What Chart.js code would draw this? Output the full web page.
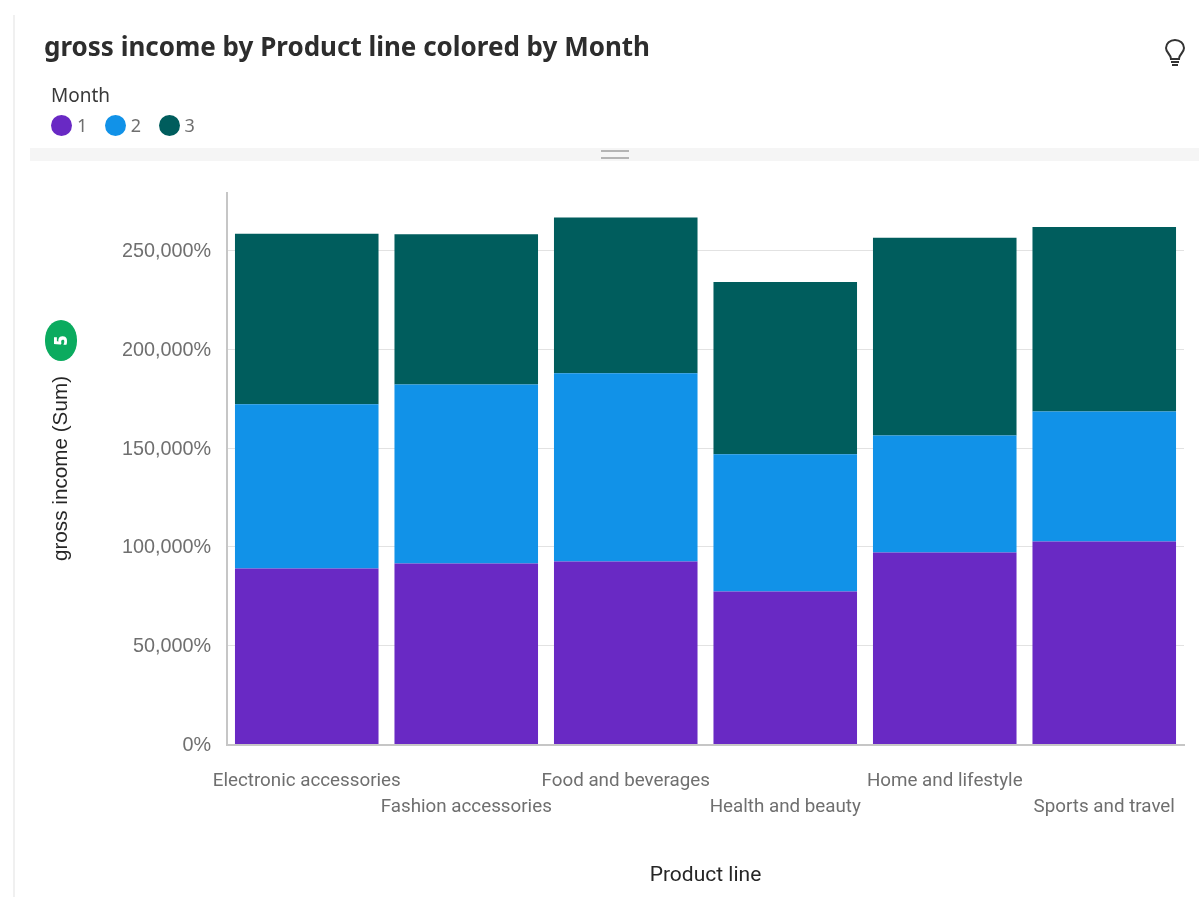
<!DOCTYPE html>
<html lang="en">
<head>
  <meta charset="UTF-8">
  <title>gross income by Product line colored by Month</title>
  <script src="https://cdn.jsdelivr.net/npm/chart.js"></script>
  <style>
    html, body { margin: 0; padding: 0; background: #fff; }
    body { width: 1199px; height: 897px; position: relative; overflow: hidden; font-family: "Noto Sans", sans-serif; }
    #panel-edge { position: absolute; left: 13px; top: 15px; width: 2px; bottom: 0; background: #f0f0f0; }
    h1 { position: absolute; left: 44px; top: 27px; margin: 0; font-size: 26px; line-height: 38px; font-weight: 700; color: #2d2d2d; white-space: nowrap; }
    #bulb { position: absolute; left: 1163px; top: 39px; }
    #legend-title { position: absolute; left: 51px; top: 82px; font-size: 19px; line-height: 26px; color: #393939; }
    #legend { position: absolute; left: 51px; top: 114px; height: 22px; display: flex; font-size: 18px; line-height: 22px; color: #6f6f6f; }
    #legend span.item { display: flex; align-items: center; margin-right: 17.5px; }
    #legend i { display: block; width: 21px; height: 21px; border-radius: 50%; margin-right: 5px; }
    #band { position: absolute; left: 30px; right: 0; top: 148px; height: 13px; background: #f5f5f5; }
    #handle { position: absolute; left: 601px; top: 150px; width: 28px; height: 5px; border-top: 2px solid #b4b4b4; border-bottom: 2px solid #b4b4b4; }
    #badge { position: absolute; left: 45px; top: 320px; width: 32px; height: 41px; border-radius: 16px / 20px; background: #0bab5f; color: #fff; font: 700 17px "Noto Sans", sans-serif; display: flex; align-items: center; justify-content: center; }
    #badge b { display: block; transform: rotate(-90deg); }
    #chart-box { position: absolute; left: 0; top: 0; width: 1199px; height: 897px; }
  </style>
</head>
<body>
  <div id="panel-edge"></div>
  <div id="chart-box"><canvas id="chart"></canvas></div>
  <h1>gross income by Product line colored by Month</h1>
  <svg id="bulb" width="24" height="28" viewBox="0 0 24 28" fill="none" stroke="#333" stroke-width="2">
    <path d="M8 20 C8 15 3 14 3 9 A9 8 0 0 1 21 9 C21 14 16 15 16 20 Z"/>
    <path d="M8 23 H16 M9 26 H15"/>
  </svg>
  <div id="legend-title">Month</div>
  <div id="legend"></div>
  <div id="band"></div>
  <div id="handle"></div>
  <div id="badge"><b>5</b></div>

  <script>
    const categories = ['Electronic accessories', 'Fashion accessories', 'Food and beverages', 'Health and beauty', 'Home and lifestyle', 'Sports and travel'];
    const months = ['1', '2', '3'];
    const month1 = [89100, 91600, 92600, 77400, 97200, 102700];
    const month2 = [83000, 90600, 95200, 69400, 59200, 65800];
    const month3 = [86300, 76000, 78900, 87200, 100000, 93400];
    const yTicks = [0, 50000, 100000, 150000, 200000, 250000];
    const colors = ['#6929c4', '#1192e8', '#005d5d'];

    const textGrey = '#6f6f6f';
    const chartFont = '"Roboto", sans-serif';
    const yFont = '"Liberation Sans", sans-serif';

    // legend is html because of the "Month" heading above it
    document.getElementById('legend').innerHTML = months.map((m, i) =>
      `<span class="item"><i style="background:${colors[i]}"></i>${m}</span>`).join('');

    new Chart(document.getElementById('chart').getContext('2d'), {
      type: 'bar',
      data: {
        labels: categories,
        datasets: [
          { label: months[0], data: month1, backgroundColor: colors[0] },
          { label: months[1], data: month2, backgroundColor: colors[1] },
          { label: months[2], data: month3, backgroundColor: colors[2] }
        ]
      },
      options: {
        responsive: true,
        maintainAspectRatio: false,
        animation: false,
        layout: { padding: { left: 45, top: 192.5, right: 15, bottom: 5 } },
        categoryPercentage: 1,
        barPercentage: 0.9,
        plugins: { legend: { display: false }, tooltip: { enabled: false } },
        scales: {
          x: {
            stacked: true,
            afterFit: (s) => { s.height = 147.5; },
            grid: { display: false },
            border: { color: '#c6c6c6', width: 2 },
            ticks: {
              maxRotation: 0,
              autoSkip: false,
              padding: 16,
              color: textGrey,
              font: { family: chartFont, size: 18.8, lineHeight: 1.39 },
              // every other label goes down one row so they don't collide
              callback: function (value, index) {
                const label = this.getLabelForValue(value);
                return index % 2 === 0 ? [label, ''] : ['', label];
              }
            },
            title: {
              display: true,
              text: 'Product line',
              color: '#262626',
              font: { family: chartFont, size: 21 }
            }
          },
          y: {
            stacked: true,
            min: 0,
            max: 279300,
            afterFit: (s) => { s.width = 182; },
            // the top of the axis isn't a round number, so keep only the round ticks
            afterBuildTicks: (s) => { s.ticks = yTicks.map((v) => ({ value: v })); },
            grid: { color: '#e2e2e2', drawTicks: false },
            border: { color: '#c6c6c6', width: 2 },
            ticks: {
              padding: 16,
              labelOffset: 1,
              color: textGrey,
              font: { family: yFont, size: 19.8 },
              callback: (v) => v.toLocaleString('en-US') + '%'
            },
            title: {
              display: true,
              text: 'gross income (Sum)',
              color: '#262626',
              font: { family: yFont, size: 20.7 }
            }
          }
        }
      }
    });
  </script>
</body>
</html>
